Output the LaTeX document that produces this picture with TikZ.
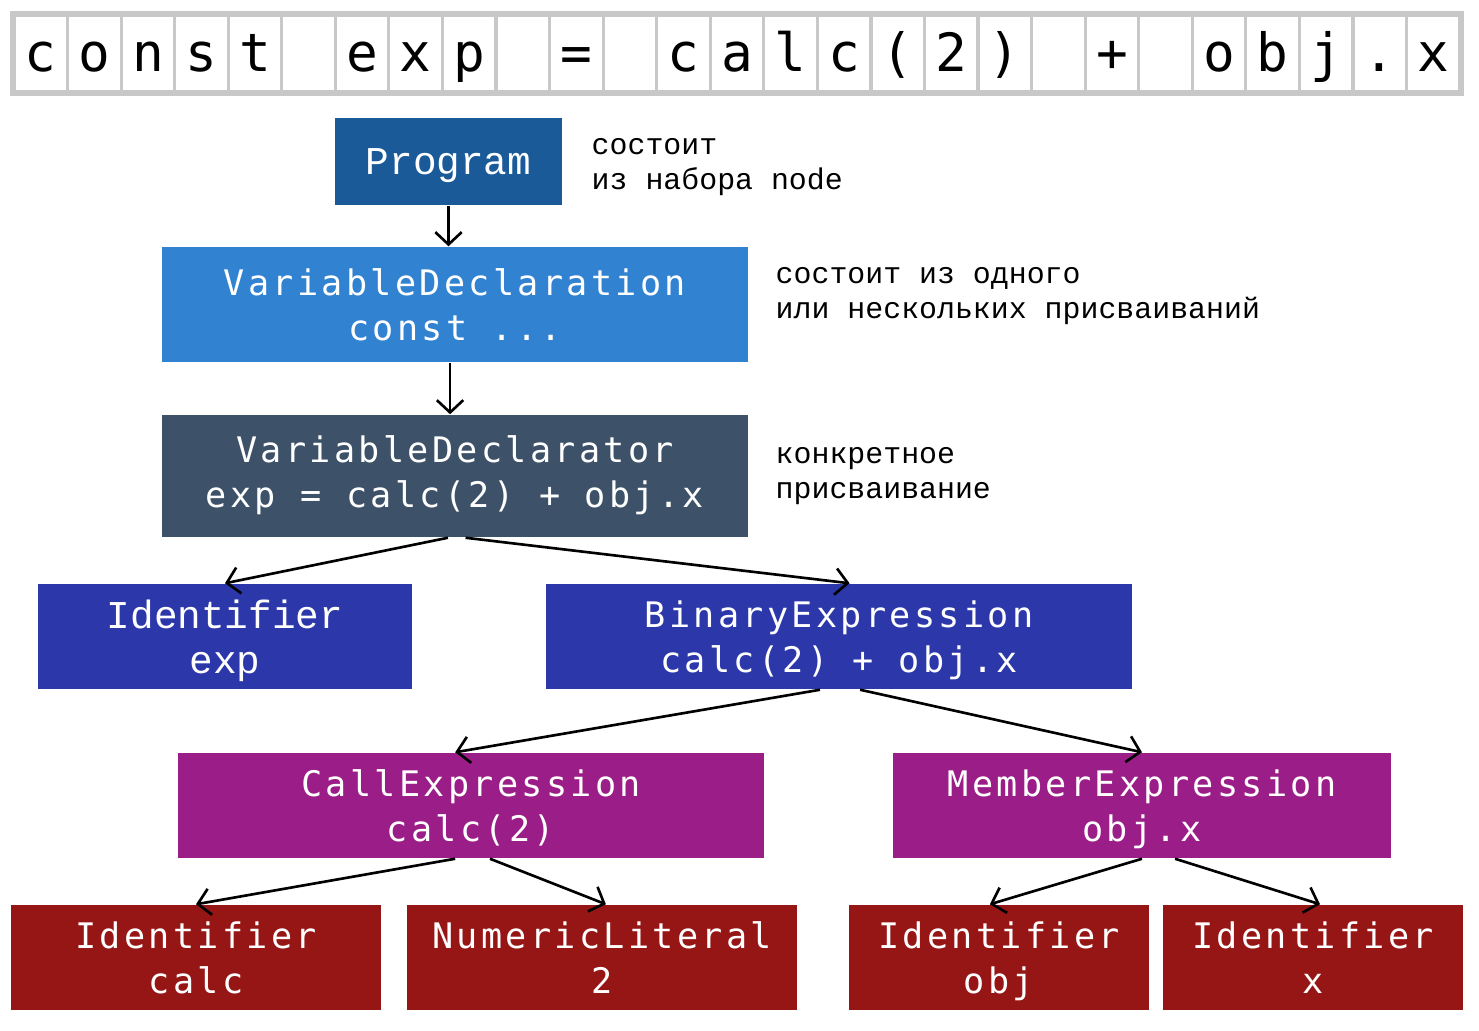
\documentclass[tikz,border=0pt]{standalone}
\usepackage{fontspec}
\usepackage{tikz}
\usetikzlibrary{arrows.meta,calc}

\newfontfamily\boxfont[LetterSpace=9.5]{DejaVu Sans Mono}
\newfontfamily\courfont{Liberation Mono}
\newfontfamily\cellfont{DejaVu Sans Mono}

\definecolor{progblue}{HTML}{1A5A99}
\definecolor{declblue}{HTML}{3182D1}
\definecolor{slate}{HTML}{3D5268}
\definecolor{indigo}{HTML}{2C38AA}
\definecolor{plum}{HTML}{9B1D87}
\definecolor{darkred}{HTML}{961616}
\definecolor{cellgray}{HTML}{C8C8C8}

\begin{document}
\begin{tikzpicture}[x=0.01cm, y=-0.01cm,
    astnode/.style={fill=#1, text=white, inner sep=0pt, align=center, text depth=0pt,
        font=\boxfont\fontsize{10pt}{12.8pt}\selectfont},
    courbox/.style={font=\courfont\fontsize{11.2pt}{12.8pt}\selectfont},
    edge/.style={line width=0.75pt, -{Straight Barb[length=3.5pt,width=7.5pt]}},
    note/.style={anchor=base west, align=left, inner sep=0pt,
        font=\courfont\fontsize{8.5pt}{9.7pt}\selectfont},
    cell/.style={draw=cellgray, line width=0.9pt, inner sep=0pt,
        minimum width=0.5356cm, minimum height=0.77cm,
        text height=12pt, text depth=1.5pt,
        font=\cellfont\fontsize{15pt}{15pt}\selectfont}]
    \useasboundingbox (0,0) rectangle (1479,1030);

    % source line, one cell per character
    \foreach \ch [count=\i from 0] in {c,o,n,s,t,{},e,x,p,{},=,{},c,a,l,c,{(},2,{)},{},+,{},o,b,j,.,x}
        \node[cell] (ch\i) at ({14+53.556*(\i+0.5)},53.5) {\ch};
    \draw[cellgray, line width=1.2pt] (ch0.north west) rectangle (ch26.south east);

    % tree
    \node[astnode=progblue, courbox, minimum width=2.27cm, minimum height=0.87cm] (prog) at (448.5,161.5) {Program};
    \node[astnode=declblue, minimum width=5.86cm, minimum height=1.15cm] (vdecl) at (455,304.5) {VariableDeclaration\\const ...};
    \node[astnode=slate, text depth=2.4pt, minimum width=5.86cm, minimum height=1.22cm] (vdtor) at (455,476) {VariableDeclarator\\exp = calc(2) + obj.x};

    \node[astnode=indigo, courbox, minimum width=3.74cm, minimum height=1.05cm] (idexp) at (225,636.5) {Identifier\\exp};
    \node[astnode=indigo, minimum width=5.86cm, minimum height=1.05cm] (binexp) at (839,636.5) {BinaryExpression\\calc(2) + obj.x};

    \node[astnode=plum, minimum width=5.86cm, minimum height=1.05cm] (callexp) at (471,805.5) {CallExpression\\calc(2)};
    \node[astnode=plum, minimum width=4.98cm, minimum height=1.05cm] (memexp) at (1142,805.5) {MemberExpression\\obj.x};

    \node[astnode=darkred, minimum width=3.70cm, minimum height=1.05cm] (idcalc) at (196,957.5) {Identifier\\calc};
    \node[astnode=darkred, minimum width=3.90cm, minimum height=1.05cm] (numlit) at (602,957.5) {NumericLiteral\\2};
    \node[astnode=darkred, minimum width=3.00cm, minimum height=1.05cm] (idobj) at (999,957.5) {Identifier\\obj};
    \node[astnode=darkred, minimum width=3.00cm, minimum height=1.05cm] (idx) at (1313,957.5) {Identifier\\x};

    % comments on the right (base = last line)
    \node[note] (noteprog) at (591,189) {состоит\\из набора node};
    \node[note] (notedecl) at (775,318) {состоит из одного\\или нескольких присваиваний};
    \node[note] (notetor) at (775,498) {конкретное\\присваивание};

    % connectors
    \draw[edge] (prog.south) -- (prog.south |- vdecl.north);
    \draw[edge] ([xshift=-1.4pt]vdecl.south) -- ([xshift=-1.4pt]vdtor.north);
    \draw[edge] ([xshift=-2pt]vdtor.south) -- (idexp.north);
    \draw[edge] ([xshift=3pt]vdtor.south) -- ([xshift=3pt]binexp.north);
    \draw[edge] ([xshift=-5.4pt]binexp.south) -- ([xshift=-4.5pt]callexp.north);
    \draw[edge] ([xshift=6pt]binexp.south) -- (memexp.north);
    \draw[edge] ([xshift=-4.5pt]callexp.south) -- (idcalc.north);
    \draw[edge] ([xshift=5.4pt]callexp.south) -- ([xshift=1.1pt]numlit.north);
    \draw[edge] (memexp.south) -- ([xshift=-2.6pt]idobj.north);
    \draw[edge] ([xshift=9.4pt]memexp.south) -- ([xshift=2pt]idx.north);
\end{tikzpicture}
\end{document}
